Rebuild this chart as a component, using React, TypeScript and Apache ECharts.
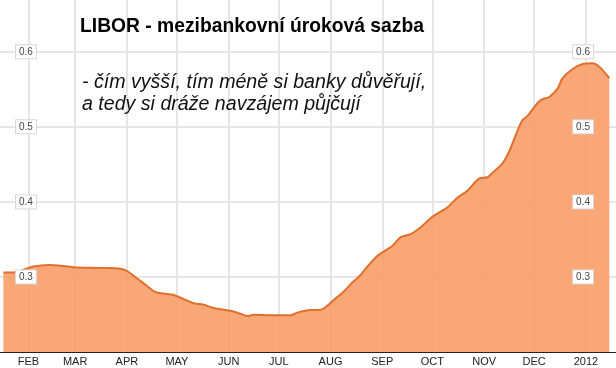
import React, { useEffect, useRef } from "react";
import * as echarts from "echarts";

const dates: string[] = [
  "2011-01-17", "2011-01-23", "2011-02-04", "2011-02-14", "2011-02-20", "2011-02-28",
  "2011-03-16", "2011-03-28", "2011-04-01", "2011-04-06", "2011-04-12", "2011-04-18",
  "2011-04-24", "2011-04-29", "2011-05-05", "2011-05-11", "2011-05-17", "2011-05-23",
  "2011-06-02", "2011-06-08", "2011-06-12", "2011-06-16", "2011-06-26", "2011-07-08",
  "2011-07-12", "2011-07-20", "2011-07-26", "2011-07-30", "2011-08-03", "2011-08-09",
  "2011-08-14", "2011-08-19", "2011-08-23", "2011-08-29", "2011-09-04", "2011-09-07",
  "2011-09-12", "2011-09-18", "2011-09-24", "2011-10-01", "2011-10-10", "2011-10-16",
  "2011-10-22", "2011-10-29", "2011-11-03", "2011-11-06", "2011-11-12", "2011-11-16",
  "2011-11-21", "2011-11-24", "2011-11-27", "2011-12-03", "2011-12-06", "2011-12-10",
  "2011-12-15", "2011-12-18", "2011-12-24", "2011-12-30", "2012-01-05", "2012-01-09",
  "2012-01-14", "2012-01-15",
];

const libor: number[] = [
  0.306, 0.306, 0.314, 0.316, 0.315, 0.313,
  0.312, 0.311, 0.308, 0.3, 0.29, 0.28,
  0.2775, 0.276, 0.2705, 0.265, 0.263, 0.2586,
  0.255, 0.251, 0.248, 0.2495, 0.249, 0.249,
  0.2525, 0.256, 0.2562, 0.2615, 0.2695, 0.2806,
  0.2925, 0.3026, 0.3137, 0.328, 0.3368, 0.3413,
  0.353, 0.357, 0.3662, 0.3803, 0.3927, 0.4056,
  0.4149, 0.431, 0.4328, 0.4389, 0.4513, 0.4671,
  0.4947, 0.5091, 0.5145, 0.5318, 0.5368, 0.5398,
  0.5509, 0.5648, 0.5771, 0.5837, 0.5847, 0.5801,
  0.5676, 0.5651,
];

const monthLabels: string[] = ["JAN", "FEB", "MAR", "APR", "MAY", "JUN", "JUL", "AUG", "SEP", "OCT", "NOV", "DEC"];

const titleText = "LIBOR - mezibankovní úroková sazba";
const subtitleLines: string[] = [
  "- čím vyšší, tím méně si banky důvěřují,",
  "a tedy si dráže navzájem půjčují",
];

const xMin = "2011-01-15";
const xMax = "2012-01-19";
const yMin = 0.2;
const yMax = 0.669;
const yStep = 0.1;

export default function App() {
  const ref = useRef<HTMLDivElement>(null);
  useEffect(() => {
    if (!ref.current) return;
    const chart = echarts.init(ref.current, undefined, { renderer: "svg" });
    const font = "'Liberation Sans', Arial, sans-serif";
    const yLabel = {
      inside: true,
      formatter: (v: number) => v.toFixed(1),
      showMinLabel: false,
      showMaxLabel: false,
      color: "#444",
      fontSize: 10,
      fontFamily: font,
      backgroundColor: "#fff",
      borderColor: "#d8d8d8",
      borderWidth: 1,
      padding: [2, 3, 1, 3],
    };
    const labelAxis = (position: string, margin: number) => ({
      type: "value",
      position,
      min: yMin,
      max: yMax,
      interval: yStep,
      z: 5,
      axisLine: { show: false },
      axisTick: { show: false },
      axisLabel: { ...yLabel, margin },
      splitLine: { show: false },
    });
    chart.setOption({
      animation: false,
      grid: { left: 0, right: 0, top: 0, bottom: 16 },
      xAxis: {
        type: "time",
        min: xMin,
        max: xMax,
        minInterval: 28 * 86400000,
        maxInterval: 31 * 86400000,
        axisLine: { lineStyle: { color: "#222", width: 1 } },
        axisTick: { show: false },
        axisLabel: {
          showMinLabel: false,
          showMaxLabel: false,
          margin: 3,
          color: "#222",
          fontSize: 11,
          fontFamily: font,
          hideOverlap: false,
          formatter: (v: number) => {
            const d = new Date(v);
            return d.getMonth() === 0 ? String(d.getFullYear()) : monthLabels[d.getMonth()];
          },
        },
        splitLine: {
          show: true,
          showMinLine: false,
          showMaxLine: false,
          lineStyle: { color: "#e6e6e6", width: 2 },
        },
      },
      yAxis: [
        {
          type: "value",
          position: "left",
          min: yMin,
          max: yMax,
          interval: yStep,
          axisLine: { show: false },
          axisTick: { show: false },
          axisLabel: { show: false },
          splitLine: {
            show: true,
            showMinLine: false,
            showMaxLine: false,
            lineStyle: { color: "#e6e6e6", width: 2 },
          },
        },
        labelAxis("left", 16),
        labelAxis("right", 23),
      ],
      series: [
        {
          type: "line",
          data: dates.map((d, i) => [d, libor[i]]),
          showSymbol: false,
          smooth: 0.3,
          lineStyle: { color: "#e0702e", width: 2 },
          areaStyle: { color: "rgba(248,160,106,0.92)", opacity: 1, origin: "start" },
          z: 2,
        },
      ],
      graphic: [
        {
          type: "text",
          left: 80,
          top: 16,
          z: 10,
          style: { text: titleText, fill: "#000", font: `bold 19.3px ${font}` },
        },
        {
          type: "text",
          left: 82,
          top: 70,
          z: 10,
          style: {
            text: subtitleLines.join("\n"),
            fill: "#111",
            font: `italic 19.6px ${font}`,
            lineHeight: 22,
          },
        },
      ],
    });
    return () => chart.dispose();
  }, []);
  return <div ref={ref} style={{ width: 616, height: 368, position: "fixed", left: 0, top: 0 }} />;
}
